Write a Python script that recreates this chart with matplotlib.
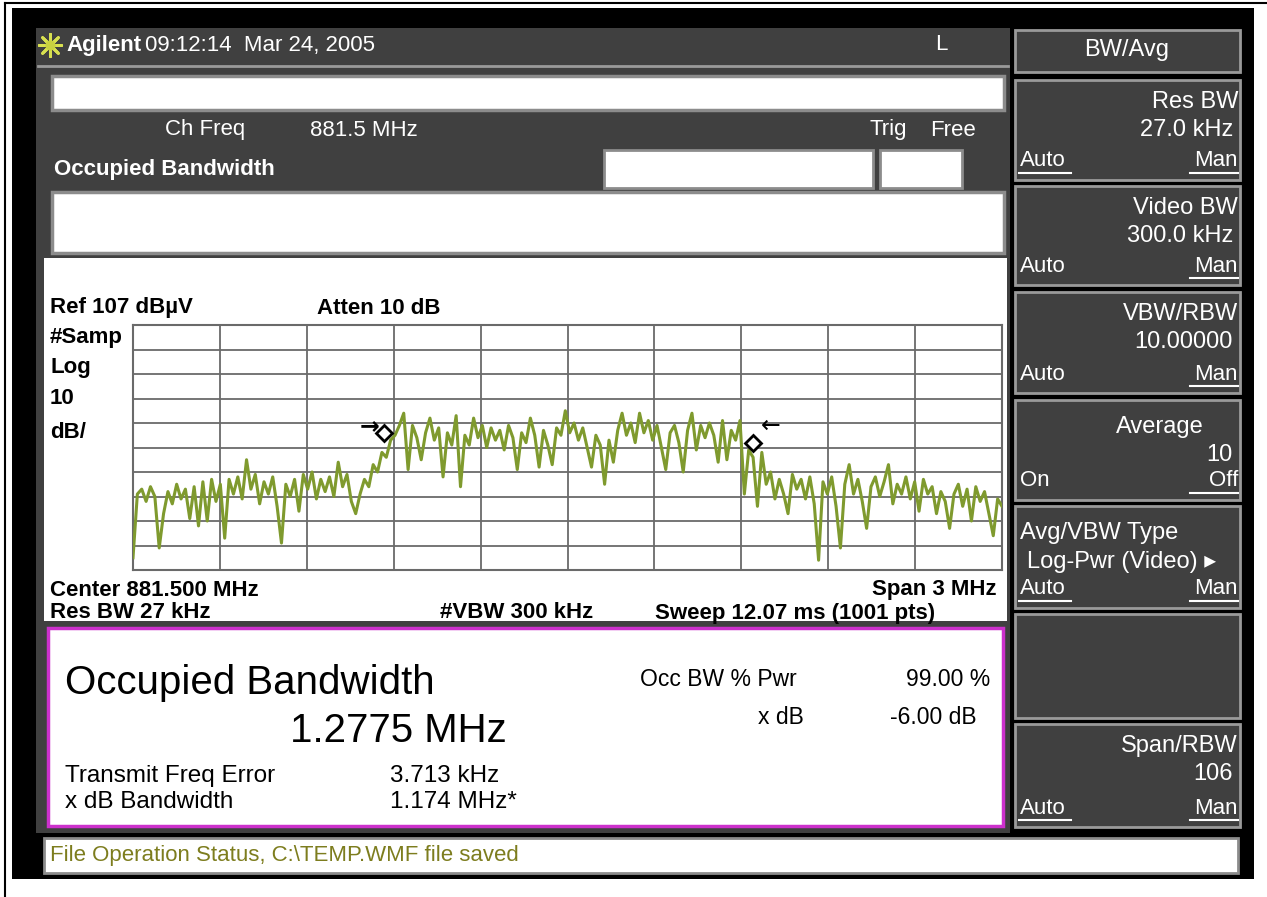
import numpy as np
import matplotlib
matplotlib.use("Agg")
import matplotlib.pyplot as plt
from matplotlib.patches import Rectangle

plt.rcParams['font.family'] = ['Liberation Sans', 'DejaVu Sans']

#==========================================================================================
# Messwerte (aus dem Screenshot abgelesen), Pegel in dBuV
noise_left = [12, 38, 40, 35, 41, 37, 16, 30, 39, 34, 42, 36, 40, 28, 41, 25, 43, 27, 44, 35,
              42, 20, 44, 38, 45, 36, 52, 40, 46, 34, 43, 38, 45, 33, 18, 42, 37, 44, 31, 46]
ramp = [40, 47, 36, 44, 39, 45, 37, 51, 41, 46, 35, 30, 38, 44, 41, 50, 47, 55, 53, 60, 62]
band = [66, 71, 48, 66, 61, 52, 63, 69, 60, 65, 45, 63, 58, 70, 41, 62, 58, 69, 61, 66,
        57, 65, 60, 64, 56, 66, 61, 48, 63, 59, 69, 62, 49, 64, 58, 50, 65, 62, 72, 63,
        67, 60, 65, 57, 49, 62, 58, 42, 60, 51, 64, 71, 62, 67, 59, 71, 63, 68, 60, 66,
        57, 48, 63, 66, 59, 47, 64, 71, 56, 66, 61, 67, 62, 51, 68, 52, 64, 60, 68]
noise_right = [38, 56, 53, 33, 55, 42, 47, 36, 44, 38, 30, 46, 40, 44, 36, 45, 34, 11, 43, 38,
               45, 33, 16, 42, 50, 38, 44, 35, 24, 41, 45, 37, 43, 50, 34, 42, 38, 45, 36, 43,
               31, 44, 38, 41, 30, 39, 35, 24, 38, 42, 33, 40, 27, 41, 35, 39, 30, 21, 36, 33]

f_start = 880.0   # MHz
f_stop = 883.0
ref_level = 107   # dBuV
db_div = 10
marker_freq = [880.865, 882.142]
marker_level = [63, 59]

# Softkeys rechts: Titel, Wert, links, rechts, unterstrichen
softkeys = [("Res BW", "27.0 kHz", "Auto", "Man", ["Auto", "Man"]),
            ("Video BW", "300.0 kHz", "Auto", "Man", ["Man"]),
            ("VBW/RBW", "10.00000", "Auto", "Man", ["Man"]),
            ("Average", "10", "On", "Off", ["Off"]),
            ("Avg/VBW Type", "Log-Pwr (Video) \u25b8", "Auto", "Man", ["Auto", "Man"]),
            ("", "", "", "", []),
            ("Span/RBW", "106", "Auto", "Man", ["Auto", "Man"])]
key_y = [(80, 180), (186, 285), (292, 393), (400, 500), (506, 608), (614, 718), (724, 827)]

gray = '#404040'
edge = '#9a9a9a'

fig = plt.figure(figsize=(12.67, 8.97), dpi=100)
fig.patch.set_facecolor('white')
bg = fig.add_axes([0, 0, 1, 1])
bg.set_xlim(0, 1267)
bg.set_ylim(897, 0)
bg.axis('off')


def box(x0, y0, x1, y1, fc, ec='none', lw=0):
    bg.add_patch(Rectangle((x0, y0), x1 - x0, y1 - y0, facecolor=fc, edgecolor=ec, linewidth=lw))


def txt(x, y, s, size=16, color='white', weight='normal', ha='left'):
    bg.text(x, y, s, fontsize=size, color=color, fontweight=weight, ha=ha, va='center')


# Rahmen + Bildschirm
bg.plot([5, 1267], [3, 3], color='black', lw=1.5)
bg.plot([5, 5], [3, 897], color='black', lw=1.5)
box(12, 8, 1254, 879, 'black')
box(36, 28, 1010, 833, gray)

# Kopfzeile
bg.scatter([50], [45], marker=(8, 2, 0), s=260, color='#d8e050', lw=2)
bg.scatter([50], [45], marker='o', s=40, color='#c8d040')
txt(66, 45, "Agilent", 16, weight='bold')
txt(145, 45, "09:12:14  Mar 24, 2005", 16)
txt(935, 45, "L", 16)
bg.plot([38, 1008], [66, 66], color=edge, lw=2)

box(52, 76, 1004, 110, 'white', '#8c8c8c', 2.5)
txt(165, 130, "Ch Freq", 16)
txt(310, 130, "881.5 MHz", 16)
txt(870, 130, "Trig", 16)
txt(930, 130, "Free", 16)
txt(54, 170, "Occupied Bandwidth", 16, weight='bold')
box(604, 150, 873, 188, 'white', '#8c8c8c', 2)
box(880, 150, 962, 188, 'white', '#8c8c8c', 2)
box(52, 192, 1004, 253, 'white', '#8c8c8c', 2.5)

# Messbereich
box(44, 258, 1007, 621, 'white')
txt(50, 308, "Ref 107 dB\u00b5V", 16, 'black', 'bold')
txt(317, 308, "Atten 10 dB", 16, 'black', 'bold')
txt(50, 337, "#Samp", 16, 'black', 'bold')
txt(50, 368, "Log", 16, 'black', 'bold')
txt(50, 398, "10", 16, 'black', 'bold')
txt(50, 432, "dB/", 16, 'black', 'bold')
txt(50, 590, "Center 881.500 MHz", 16, 'black', 'bold')
txt(996, 590, "Span 3 MHz", 16, 'black', 'bold', ha='right')
txt(50, 613, "Res BW 27 kHz", 16, 'black', 'bold')
txt(440, 613, "#VBW 300 kHz", 16, 'black', 'bold')
txt(655, 613, "Sweep 12.07 ms (1001 pts)", 16, 'black', 'bold')

# Ergebnisfeld
box(48, 628, 1003, 826, 'white', '#cc30cc', 2.5)
txt(65, 683, "Occupied Bandwidth", 29, 'black')
txt(290, 731, "1.2775 MHz", 29, 'black')
txt(640, 679, "Occ BW % Pwr", 16.5, 'black')
txt(990, 679, "99.00 %", 16.5, 'black', ha='right')
txt(804, 717, "x dB", 16.5, 'black', ha='right')
txt(977, 717, "-6.00 dB", 16.5, 'black', ha='right')
txt(65, 776, "Transmit Freq Error", 17.5, 'black')
txt(390, 776, "3.713 kHz", 17.5, 'black')
txt(65, 802, "x dB Bandwidth", 17.5, 'black')
txt(390, 802, "1.174 MHz*", 17.5, 'black')

# Statuszeile
box(44, 838, 1238, 873, 'white', '#8c8c8c', 2)
txt(50, 856, "File Operation Status, C:\\TEMP.WMF file saved", 16, '#7d7d1e')

# Softkeys
box(1015, 30, 1240, 72, gray, edge, 2)
txt(1127, 50, "BW/Avg", 17, ha='center')
for (title, val, left, right, under), (y0, y1) in zip(softkeys, key_y):
    box(1015, y0, 1240, y1, gray, edge, 2)
    if title == "":
        continue
    if title == "Avg/VBW Type":
        txt(1020, y0 + 27, title, 17)
        txt(1027, y0 + 56, val, 17)
    elif title == "Average":
        txt(1160, y0 + 27, title, 17, ha='center')
        txt(1233, y0 + 55, val, 17, ha='right')
    else:
        txt(1238, y0 + 22, title, 17, ha='right')
        txt(1233, y0 + 50, val, 17, ha='right')
    yb = y1 - 19
    txt(1020, yb, left, 16)
    txt(1238, yb, right, 16, ha='right')
    if left in under:
        bg.plot([1019, 1019 + 13 * len(left)], [yb + 12, yb + 12], color='white', lw=1.5)
    if right in under:
        bg.plot([1238 - 16 * len(right), 1238], [yb + 12, yb + 12], color='white', lw=1.5)

#==========================================================================================
# Spektrum
levels = np.array(noise_left + ramp + band + noise_right)
freq = np.linspace(f_start, f_stop, len(levels))

ax = fig.add_axes([133 / 1267, 1 - 570 / 897, 869 / 1267, 245 / 897])
ax.set_facecolor('white')
ax.set_xlim(f_start, f_stop)
ax.set_ylim(ref_level - 10 * db_div, ref_level)
ax.set_xticks(np.linspace(f_start, f_stop, 11))
ax.set_yticks(np.arange(ref_level - 10 * db_div, ref_level + 1, db_div))
ax.tick_params(length=0, labelbottom=False, labelleft=False)
ax.grid(True, color='#6a6a6a', lw=1.3)
for s in ax.spines.values():
    s.set_color('#6a6a6a')
    s.set_linewidth(1.5)

ax.plot(freq, levels, color='#7f9a2e', lw=2.2, zorder=3)
ax.plot(marker_freq, marker_level, ls='none', marker='D', ms=8, mfc='white', mec='black',
        mew=2, zorder=4)
ax.annotate("\u2192", xy=(marker_freq[0], marker_level[0]), xytext=(-3, 5),
            textcoords='offset points', ha='right', va='center', fontsize=17, fontweight='bold',
            family='DejaVu Sans')
ax.annotate("\u2190", xy=(marker_freq[1], marker_level[1]), xytext=(5, 12),
            textcoords='offset points', ha='left', va='center', fontsize=17,
            family='DejaVu Sans')

fig.savefig("out.png", dpi=100)
